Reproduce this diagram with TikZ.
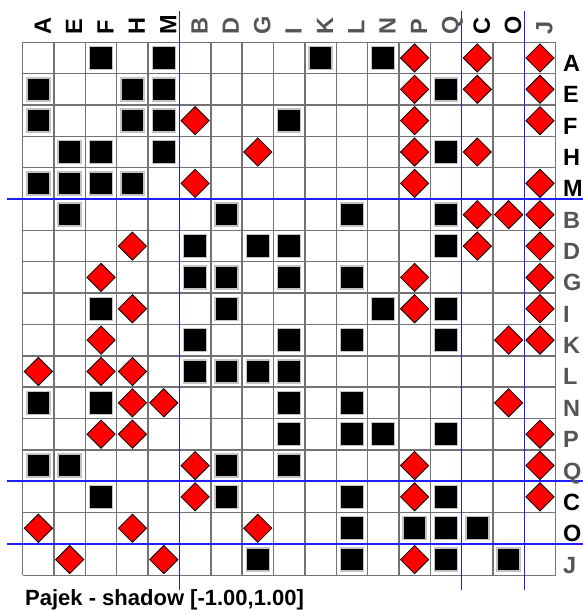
\documentclass[tikz,border=0pt]{standalone}
\usepackage{fontspec}
\setmainfont{Liberation Sans}
\usetikzlibrary{shapes.geometric}
\definecolor{lblgray}{RGB}{85,85,85}
\definecolor{gridgray}{RGB}{115,115,115}
\definecolor{sqedge}{RGB}{195,195,195}
\definecolor{pblue}{RGB}{30,30,255}
\begin{document}
\begin{tikzpicture}[x=1pt,y=-1pt,
  gridline/.style={draw=gridgray,line width=1.4pt},
  blueline/.style={draw=pblue,line width=1.6pt},
  lbl/.style={font=\bfseries\fontsize{23.5}{24}\selectfont,inner sep=0pt},
  mks/.style={rectangle,minimum size=23pt,inner sep=0pt,fill=black,draw=sqedge,line width=1.5pt},
  mkd/.style={diamond,minimum width=28.5pt,minimum height=28.5pt,inner sep=0pt,fill=red,draw=black,line width=0.8pt},
  caption/.style={font=\bfseries\fontsize{22}{24}\selectfont,inner sep=0pt}]
\useasboundingbox (0,0) rectangle (583,610);
\fill[white] (0,0) rectangle (583,610);
% grid
\foreach \i in {0,...,17} {
  \draw[gridline] ({22.7+\i*31.35},42.3) -- ({22.7+\i*31.35},{42.3+17*31.35});
  \draw[gridline] (22.7,{42.3+\i*31.35}) -- ({22.7+17*31.35},{42.3+\i*31.35});
}
% partition lines
\foreach \k in {5,14,16} {
  \draw[blueline] ({22.7+\k*31.35},11) -- ({22.7+\k*31.35},590);
  \draw[blueline] (7,{42.3+\k*31.35}) -- (583,{42.3+\k*31.35});
}
% labels
\foreach \n/\c [count=\i] in {A/black,E/black,F/black,H/black,M/black,B/lblgray,D/lblgray,G/lblgray,I/lblgray,K/lblgray,L/lblgray,N/lblgray,P/lblgray,Q/lblgray,C/black,O/black,J/lblgray} {
  \node[lbl,text=\c,rotate=90,anchor=base west] (col\n) at ({22.7+(\i-0.5)*31.35+12.5},35) {\n};
  \node[lbl,text=\c,anchor=base west] (row\n) at (563,{42.3+(\i-0.5)*31.35+13.5}) {\n};
}
% markers
\foreach \r/\c/\t in {
1/3/s,1/5/s,1/10/s,1/12/s,1/13/d,1/15/d,1/17/d,
2/1/s,2/4/s,2/5/s,2/13/d,2/14/s,2/15/d,2/17/d,
3/1/s,3/4/s,3/5/s,3/6/d,3/9/s,3/13/d,3/17/d,
4/2/s,4/3/s,4/5/s,4/8/d,4/13/d,4/14/s,4/15/d,
5/1/s,5/2/s,5/3/s,5/4/s,5/6/d,5/13/d,5/17/d,
6/2/s,6/7/s,6/11/s,6/14/s,6/15/d,6/16/d,6/17/d,
7/4/d,7/6/s,7/8/s,7/9/s,7/14/s,7/15/d,7/17/d,
8/3/d,8/6/s,8/7/s,8/9/s,8/11/s,8/13/d,8/17/d,
9/3/s,9/4/d,9/7/s,9/12/s,9/13/d,9/14/s,9/17/d,
10/3/d,10/6/s,10/9/s,10/11/s,10/14/s,10/16/d,10/17/d,
11/1/d,11/3/d,11/4/d,11/6/s,11/7/s,11/8/s,11/9/s,
12/1/s,12/3/s,12/4/d,12/5/d,12/9/s,12/11/s,12/16/d,
13/3/d,13/4/d,13/9/s,13/11/s,13/12/s,13/14/s,13/17/d,
14/1/s,14/2/s,14/6/d,14/7/s,14/9/s,14/13/d,14/17/d,
15/3/s,15/6/d,15/7/s,15/11/s,15/13/d,15/14/s,15/17/d,
16/1/d,16/4/d,16/8/d,16/11/s,16/13/s,16/14/s,16/15/s,
17/2/d,17/5/d,17/8/s,17/11/s,17/13/d,17/14/s,17/16/s} {
  \node[mk\t] (m-\r-\c) at ({22.7+(\c-0.5)*31.35},{42.3+(\r-0.5)*31.35}) {};
}
\node[caption,anchor=base west] (cap) at (25,605) {Pajek - shadow [-1.00,1.00]};
\end{tikzpicture}
\end{document}
